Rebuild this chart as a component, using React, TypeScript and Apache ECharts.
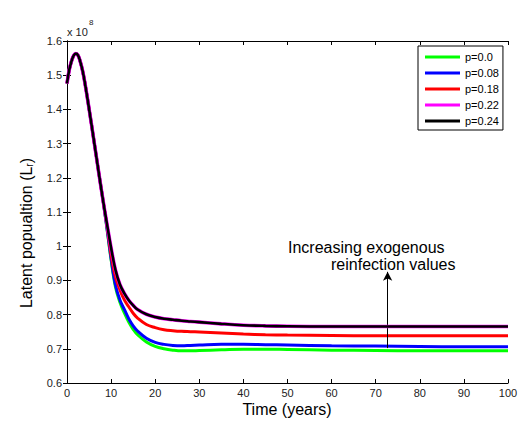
import React, { useEffect, useRef } from "react";
import * as echarts from "echarts";

const FONT = "'Liberation Sans', Arial, Helvetica, sans-serif";

// time grid (years)
const years = [0, 0.5, 1, 1.5, 2, 2.5, 3, 3.5, 4, 5, 6, 7, 8, 9, 10, 11, 12, 13, 14, 15, 16, 18, 20, 22, 24, 26, 28, 30, 35, 40, 45, 50, 60, 70, 80, 90, 100];

// latent population values (x 10^8)
const p000 = [1.476, 1.515, 1.540, 1.557, 1.563, 1.558, 1.540, 1.515, 1.482, 1.402, 1.318, 1.232, 1.148,
  1.057, 0.960, 0.880, 0.836, 0.805, 0.778, 0.757, 0.741, 0.720, 0.707, 0.700, 0.696, 0.694, 0.694, 0.695, 0.697, 0.699, 0.699, 0.698, 0.696, 0.695, 0.694, 0.694, 0.694];
const p008 = [1.476, 1.515, 1.540, 1.557, 1.563, 1.558, 1.540, 1.515, 1.482, 1.402, 1.318, 1.232, 1.148,
  1.060, 0.964, 0.886, 0.843, 0.815, 0.788, 0.767, 0.752, 0.731, 0.719, 0.713, 0.710, 0.709, 0.710, 0.711, 0.713, 0.713, 0.712, 0.711, 0.709, 0.708, 0.707, 0.706, 0.706];
const p018 = [1.476, 1.515, 1.540, 1.557, 1.563, 1.558, 1.540, 1.515, 1.482, 1.402, 1.318, 1.232, 1.148,
  1.066, 0.975, 0.910, 0.872, 0.843, 0.823, 0.804, 0.790, 0.771, 0.762, 0.756, 0.753, 0.751, 0.750, 0.749, 0.746, 0.743, 0.741, 0.740, 0.739, 0.738, 0.738, 0.738, 0.738];
const p022 = [1.476, 1.515, 1.540, 1.557, 1.563, 1.558, 1.540, 1.515, 1.482, 1.402, 1.318, 1.232, 1.148,
  1.070, 0.995, 0.930, 0.888, 0.862, 0.842, 0.827, 0.815, 0.801, 0.793, 0.788, 0.785, 0.782, 0.780, 0.778, 0.773, 0.769, 0.767, 0.766, 0.765, 0.765, 0.765, 0.765, 0.765];
const p024 = [1.476, 1.515, 1.540, 1.557, 1.563, 1.558, 1.540, 1.515, 1.482, 1.402, 1.318, 1.232, 1.148,
  1.070, 0.995, 0.930, 0.888, 0.862, 0.842, 0.827, 0.815, 0.801, 0.793, 0.788, 0.785, 0.782, 0.780, 0.778, 0.773, 0.769, 0.767, 0.766, 0.765, 0.765, 0.765, 0.765, 0.765];

const seriesNames = ["p=0.0", "p=0.08", "p=0.18", "p=0.22", "p=0.24"];
const seriesValues = [p000, p008, p018, p022, p024];
const seriesColors = ["#00ff00", "#0000ff", "#ff0000", "#ff00ff", "#000000"];
const seriesWidths = [3, 3, 3, 3.6, 2.6];

// annotation arrow (time, from, to)
const arrowTime = 72.7;
const arrowFrom = 0.702;
const arrowTo = 0.925;

export default function App() {
  const ref = useRef<HTMLDivElement>(null);
  useEffect(() => {
    if (!ref.current) return;
    const chart = echarts.init(ref.current, null, { renderer: "svg" });
    const axisCommon = {
      type: "value" as const,
      axisLine: { show: true, lineStyle: { color: "#000", width: 1 } },
      axisTick: { show: true, inside: true, length: 4, lineStyle: { color: "#000" } },
      splitLine: { show: false },
    };
    const series: any[] = seriesNames.map((name, i) => ({
      name,
      type: "line",
      data: years.map((t, k) => [t, seriesValues[i][k]]),
      showSymbol: false,
      symbol: "none",
      smooth: 0.4,
      lineStyle: { color: seriesColors[i], width: seriesWidths[i] },
      itemStyle: { color: seriesColors[i] },
      z: 2 + i,
    }));
    series[0].markLine = {
      silent: true,
      symbol: ["none", "arrow"],
      symbolSize: [7, 9],
      label: { show: false },
      lineStyle: { color: "#000", width: 1, type: "solid" },
      data: [[{ coord: [arrowTime, arrowFrom] }, { coord: [arrowTime, arrowTo] }]],
    };
    chart.setOption({
      animation: false,
      backgroundColor: "#fff",
      grid: { left: 67, top: 41, right: 15, bottom: 40 },
      xAxis: [
        {
          ...axisCommon,
          min: 0, max: 100, interval: 10,
          position: "bottom",
          axisLabel: { color: "#222", fontSize: 11, fontFamily: FONT, margin: 4 },
        },
        {
          ...axisCommon,
          min: 0, max: 100, interval: 10,
          position: "top",
          axisLabel: { show: false },
        },
      ],
      yAxis: [
        {
          ...axisCommon,
          min: 0.6, max: 1.6, interval: 0.1,
          position: "left",
          axisLabel: {
            color: "#222", fontSize: 11, fontFamily: FONT, margin: 5,
            formatter: (v: number) => String(Math.round(v * 10) / 10),
          },
        },
        {
          ...axisCommon,
          min: 0.6, max: 1.6, interval: 0.1,
          position: "right",
          axisLabel: { show: false },
        },
      ],
      legend: {
        orient: "vertical",
        left: 418,
        top: 46,
        icon: "rect",
        itemWidth: 35,
        itemHeight: 3,
        itemGap: 4,
        padding: [5, 4, 3, 7],
        borderColor: "#000",
        borderWidth: 1,
        borderRadius: 0,
        backgroundColor: "#fff",
        textStyle: { fontSize: 11, color: "#000", fontFamily: FONT, lineHeight: 12 },
        data: seriesNames,
      },
      graphic: [
        {
          type: "text", left: 67, top: 26, z: 100,
          style: { text: "x 10", fontSize: 11, fontFamily: FONT, fill: "#222" },
        },
        {
          type: "text", left: 89, top: 18, z: 100,
          style: { text: "8", fontSize: 8, fontFamily: FONT, fill: "#222" },
        },
        {
          type: "text", x: 288, y: 247, z: 100,
          style: { text: "Increasing exogenous", fontSize: 16, fontFamily: FONT, fill: "#000", align: "left", verticalAlign: "middle" },
        },
        {
          type: "text", x: 331, y: 264, z: 100,
          style: { text: "reinfection values", fontSize: 16, fontFamily: FONT, fill: "#000", align: "left", verticalAlign: "middle" },
        },
        {
          type: "text", x: 287, y: 409, z: 100,
          style: { text: "Time (years)", fontSize: 16, fontFamily: FONT, fill: "#000", align: "center", verticalAlign: "middle" },
        },
        {
          type: "text", x: 26, y: 233, rotation: Math.PI / 2, z: 100,
          style: {
            text: "Latent popualtion (L{s|r})",
            fontSize: 16, fontFamily: FONT, fill: "#000", align: "center", verticalAlign: "middle",
            rich: { s: { fontSize: 10, fontFamily: FONT, fill: "#000", verticalAlign: "bottom", lineHeight: 12 } },
          },
        },
      ],
      series,
    });
    return () => chart.dispose();
  }, []);
  return <div ref={ref} style={{ position: "fixed", left: 0, top: 0, width: 523, height: 423 }} />;
}
